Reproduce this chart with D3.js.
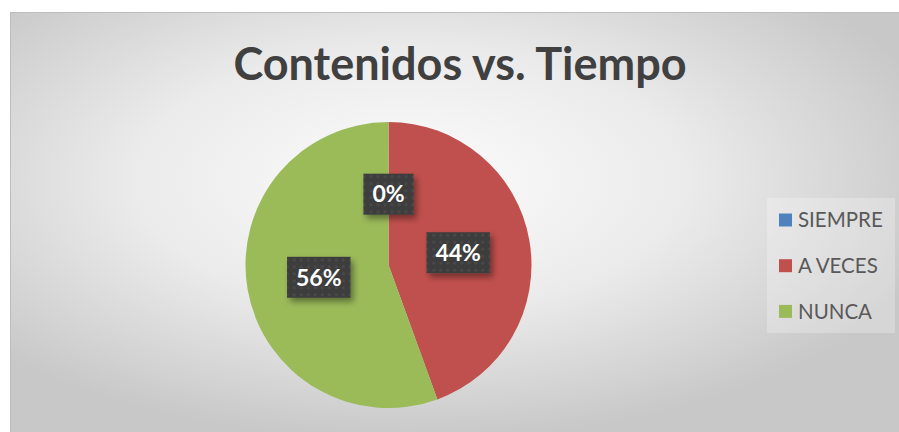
<!DOCTYPE html>
<html>
<head>
<meta charset="utf-8">
<script src="https://cdn.jsdelivr.net/npm/d3@7"></script>
<style>
  html, body { margin: 0; padding: 0; background: #fff; }
  svg { display: block; }
</style>
</head>
<body>
<div id="chart"></div>
<script>
// chart data
const title = "Contenidos vs. Tiempo";
const categories = ["SIEMPRE", "A VECES", "NUNCA"];
const values = [0, 4, 5];
const colors = ["#4f81bd", "#c0504d", "#9bbb59"];

const width = 899, height = 432;
const frame = { left: 10, top: 12 };
const cx = 388.5, cy = 265, radius = 143;
const font = "Lato, 'Open Sans', sans-serif";

const svg = d3.select("#chart").append("svg")
  .attr("width", width)
  .attr("height", height);

const defs = svg.append("defs");

// soft grey background, lighter in the middle
const bg = defs.append("radialGradient")
  .attr("id", "bg")
  .attr("cx", "0.45").attr("cy", "0.4")
  .attr("r", "0.62");
bg.append("stop").attr("offset", "0").attr("stop-color", "#fcfcfc");
bg.append("stop").attr("offset", "0.5").attr("stop-color", "#ebebeb");
bg.append("stop").attr("offset", "1").attr("stop-color", "#c8c8c8");

// dotted texture for the label boxes
const pat = defs.append("pattern")
  .attr("id", "dots")
  .attr("width", 7).attr("height", 7)
  .attr("patternUnits", "userSpaceOnUse");
pat.append("rect").attr("width", 7).attr("height", 7).attr("fill", "#3d3d3d");
pat.append("circle").attr("cx", 3.5).attr("cy", 3.5).attr("r", 1.6).attr("fill", "#494949");

const shadow = defs.append("filter").attr("id", "shadow")
  .attr("x", "-30%").attr("y", "-30%").attr("width", "160%").attr("height", "160%");
shadow.append("feDropShadow")
  .attr("dx", 3).attr("dy", 4).attr("stdDeviation", 3)
  .attr("flood-color", "#000").attr("flood-opacity", 0.4);

svg.append("rect")
  .attr("x", frame.left).attr("y", frame.top)
  .attr("width", width - frame.left).attr("height", height - frame.top)
  .attr("fill", "url(#bg)");
svg.append("path")
  .attr("d", `M${frame.left + 0.5},${height}V${frame.top + 0.5}H${width}`)
  .attr("fill", "none")
  .attr("stroke", "#bdbdbd");

// title
svg.append("text")
  .attr("x", 460).attr("y", 80)
  .attr("text-anchor", "middle")
  .style("font-family", font)
  .style("font-weight", "bold")
  .style("font-size", "45px")
  .attr("fill", "#404040")
  .text(title);

// pie
const pie = d3.pie().sort(null).value(d => d);
const arcs = pie(values);
const arc = d3.arc().innerRadius(0).outerRadius(radius);

const g = svg.append("g").attr("transform", `translate(${cx},${cy})`);
g.selectAll("path.slice")
  .data(arcs)
  .join("path")
  .attr("class", "slice")
  .attr("d", arc)
  .attr("fill", (d, i) => colors[i]);

const total = d3.sum(values);
const labelArc = d3.arc().innerRadius(0).outerRadius(radius * 0.99);

const labels = g.selectAll("g.label")
  .data(arcs)
  .join("g")
  .attr("class", "label")
  .attr("transform", d => `translate(${labelArc.centroid(d)})`);

labels.each(function(d) {
  const lg = d3.select(this);
  const txt = Math.round(d.data / total * 100) + "%";
  const box = lg.append("rect").attr("fill", "url(#dots)").attr("filter", "url(#shadow)");
  const t = lg.append("text")
    .attr("text-anchor", "middle")
    .attr("dy", "0.36em")
    .style("font-family", font)
    .style("font-weight", "bold")
    .style("font-size", "23px")
    .attr("fill", "#ffffff")
    .text(txt);
  const w = t.node().getComputedTextLength() + 18;
  box.attr("x", -w / 2).attr("y", -20.5).attr("width", w).attr("height", 41);
});

// legend
const legend = svg.append("g");
legend.append("rect")
  .attr("x", 767).attr("y", 198)
  .attr("width", 128).attr("height", 135)
  .attr("fill", "#ffffff").attr("fill-opacity", 0.25);

const items = legend.selectAll("g.item")
  .data(categories)
  .join("g")
  .attr("class", "item")
  .attr("transform", (d, i) => `translate(779,${220 + i * 45.7})`);
items.append("rect")
  .attr("x", 0).attr("y", -6.5)
  .attr("width", 13).attr("height", 13)
  .attr("fill", (d, i) => colors[i]);
items.append("text")
  .attr("x", 19).attr("dy", "0.36em")
  .style("font-family", font)
  .style("font-size", "20.5px")
  .attr("fill", "#595959")
  .text(d => d);
</script>
</body>
</html>
